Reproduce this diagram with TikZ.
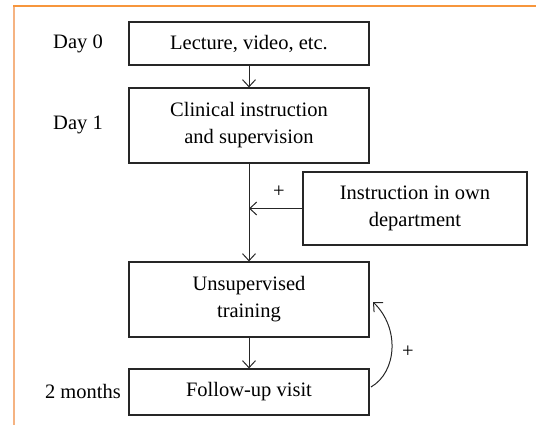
\documentclass[tikz,border=0pt]{standalone}
\usepackage{fontspec}
\setmainfont{Liberation Serif}
\usetikzlibrary{arrows.meta}
\definecolor{frametop}{HTML}{F7963C}
\definecolor{frameleft}{HTML}{F5B382}
\begin{document}
\begin{tikzpicture}[x=1pt,y=-1pt,
  box/.style={draw=black!85,line width=1.2pt,rectangle,align=center,inner sep=0pt,
    font=\fontsize{20.5}{27}\selectfont},
  lbl/.style={font=\fontsize{20.5}{24}\selectfont,inner sep=0pt},
  conn/.style={draw=black!85,line width=1pt,-{Straight Barb[length=7pt,width=13pt,line width=1pt]}},
  plain/.style={draw=black!85,line width=1pt}]
\useasboundingbox (0,0) rectangle (536,425);
\draw[frameleft,line width=2.5pt] (14,5) -- (14,425);
\draw[frametop,line width=2pt] (13,6) -- (536,6);

\node[box,minimum width=240pt,minimum height=43pt] (b1) at (249,43.5) {Lecture, video, etc.};
\node[box,minimum width=240pt,minimum height=75pt] (b2) at (249,125.5) {Clinical instruction\\and supervision};
\node[box,minimum width=224pt,minimum height=73pt] (b3) at (415,208.5) {Instruction in own\\department};
\node[box,minimum width=240pt,minimum height=75pt] (b4) at (249,299.5) {Unsupervised\\training};
\node[box,minimum width=240pt,minimum height=46pt] (b5) at (249,392) {Follow-up visit};

\node[lbl] (d0) at (78,44) {Day 0};
\node[lbl] (d1) at (78,125) {Day 1};
\node[lbl,anchor=east] (m2) at (121,391) {2 months};

\draw[conn] (b1.south) -- (b2.north);
\draw[conn] (b2.south) -- (b4.north);
\coordinate (j) at (b3.west -| b2.south);
\draw[conn] (b3.west) -- (j);
\node[lbl] (p1) at (279,192) {+};
\draw[conn] (b4.south) -- (b5.north);
\coordinate (cs) at (371,387);
\coordinate (ce) at (373,302);
\draw[conn] (cs) .. controls (397,372) and (400,328) .. (ce);
\node[lbl] (p2) at (408,352) {+};
\end{tikzpicture}
\end{document}
